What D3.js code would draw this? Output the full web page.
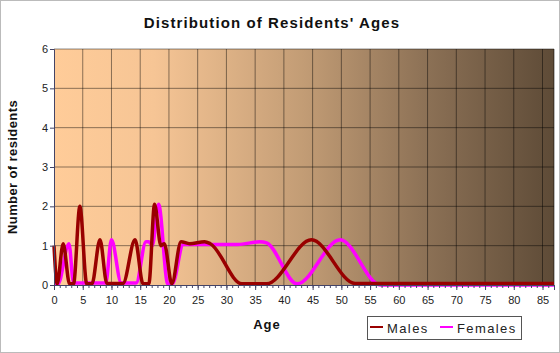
<!DOCTYPE html>
<html>
<head>
<meta charset="utf-8">
<script src="https://cdn.jsdelivr.net/npm/d3@7"></script>
<style>
  body { margin: 0; background: #fff; }
  svg { display: block; font-family: "Liberation Sans", Arial, sans-serif; }
</style>
</head>
<body>
<svg id="chart" width="560" height="353"></svg>
<script>
// ages, with the count at each of them
var maleAges   = [0, 0.55, 1.6, 2.7, 3.4, 4.5, 5.7, 6.6, 8.0, 9.2, 12, 14.1, 15.5, 16.5, 17.5, 18.6, 19.2, 20.5, 22.1, 23.6, 26.2, 27.2, 32.7, 37, 44.8, 52.4, 87];
var maleCounts = [1.0, 0.03, 1.05, 0.03, 0.03, 2.0, 0.03, 0.03, 1.15, 0.04, 0.04, 1.15, 0.03, 0.03, 2.05, 1.0, 1.05, 0.03, 1.1, 1.05, 1.1, 1.05, 0.03, 0.03, 1.15, 0.04, 0.04];
var femaleAges   = [0, 0.7, 2.6, 3.4, 9.0, 10, 11.7, 14.3, 16, 16.5, 17.1, 18.2, 19.8, 20.6, 22.5, 25, 32, 35.8, 37, 42.3, 49.8, 56.8, 87];
var femaleCounts = [0.03, 0.03, 1.05, 0.05, 0.05, 1.15, 0.05, 0.05, 1.1, 1.1, 1.0, 2.05, 0.03, 0.03, 1.03, 1.03, 1.03, 1.1, 1.07, 0.03, 1.15, 0.0, 0.0];
var xTicks = [0, 5, 10, 15, 20, 25, 30, 35, 40, 45, 50, 55, 60, 65, 70, 75, 80, 85];
var yTicks = [0, 1, 2, 3, 4, 5, 6];

var svg = d3.select("#chart");
var pLeft = 54, pRight = 554, pTop = 49, pBottom = 285;

var x = d3.scaleLinear().domain([0, 87]).range([pLeft, pRight]);
var y = d3.scaleLinear().domain([0, 6]).range([pBottom, pTop]);

// background gradient
var grad = svg.append("defs").append("linearGradient")
    .attr("id", "bg").attr("x1", "0").attr("x2", "1").attr("y1", "0").attr("y2", "0");
grad.append("stop").attr("offset", "0").attr("stop-color", "#ffcc99");
grad.append("stop").attr("offset", "0.2").attr("stop-color", "#f6c595");
grad.append("stop").attr("offset", "0.5").attr("stop-color", "#c29c75");
grad.append("stop").attr("offset", "0.75").attr("stop-color", "#8b7055");
grad.append("stop").attr("offset", "1").attr("stop-color", "#5e4b37");

svg.append("rect").attr("x", pLeft).attr("y", pTop)
    .attr("width", pRight - pLeft).attr("height", pBottom - pTop)
    .attr("fill", "url(#bg)");

// grid
svg.append("g").selectAll("line").data(xTicks.slice(1)).enter().append("line")
    .attr("x1", function(d) { return x(d); }).attr("x2", function(d) { return x(d); })
    .attr("y1", pTop).attr("y2", pBottom)
    .attr("stroke", "rgba(0,0,0,0.45)").attr("stroke-width", 1);
svg.append("g").selectAll("line").data(yTicks.slice(1)).enter().append("line")
    .attr("x1", pLeft).attr("x2", pRight)
    .attr("y1", function(d) { return y(d); }).attr("y2", function(d) { return y(d); })
    .attr("stroke", "rgba(0,0,0,0.45)").attr("stroke-width", 1);
svg.append("line").attr("x1", pRight).attr("x2", pRight).attr("y1", pTop).attr("y2", pBottom)
    .attr("stroke", "rgba(0,0,0,0.55)");

// lines
var line = d3.line().curve(d3.curveMonotoneX)
    .x(function(d) { return x(d[0]); })
    .y(function(d) { return y(d[1]); });

svg.append("path").datum(d3.zip(femaleAges, femaleCounts))
    .attr("d", line).attr("fill", "none")
    .attr("stroke", "#ff00ff").attr("stroke-width", 3.5);
svg.append("path").datum(d3.zip(maleAges, maleCounts))
    .attr("d", line).attr("fill", "none")
    .attr("stroke", "#990000").attr("stroke-width", 3.5);

// axes
var yAxis = svg.append("g").attr("transform", "translate(" + pLeft + ",0)")
    .call(d3.axisLeft(y).tickValues(yTicks).tickSize(4).tickPadding(2).tickFormat(d3.format("d")));
var xMinor = svg.append("g").attr("transform", "translate(0," + pBottom + ")")
    .call(d3.axisBottom(x).tickValues(d3.range(0, 88)).tickSize(3).tickFormat(""));
var xAxis = svg.append("g").attr("transform", "translate(0," + pBottom + ")")
    .call(d3.axisBottom(x).tickValues(xTicks).tickSize(5).tickPadding(6).tickFormat(d3.format("d")));

[yAxis, xAxis, xMinor].forEach(function(g) {
  g.select(".domain").attr("stroke", "#446").attr("stroke-width", 1);
  g.selectAll(".tick line").attr("stroke", "#446");
  g.selectAll("text").attr("font-size", 11).attr("fill", "#222")
    .attr("font-family", "Liberation Sans, Arial, sans-serif");
});
xMinor.select(".domain").remove();

// titles
svg.append("text").attr("x", 272).attr("y", 28).attr("text-anchor", "middle")
    .attr("font-size", 15).attr("font-weight", "bold").attr("letter-spacing", 1.1)
    .attr("fill", "#111").text("Distribution of Residents' Ages");

svg.append("text").attr("transform", "translate(17,167) rotate(-90)")
    .attr("text-anchor", "middle").attr("font-size", 13).attr("font-weight", "bold")
    .attr("letter-spacing", 0.4).attr("fill", "#111").text("Number of residents");

svg.append("text").attr("x", 267).attr("y", 329).attr("text-anchor", "middle")
    .attr("font-size", 13).attr("font-weight", "bold").attr("letter-spacing", 1)
    .attr("fill", "#111").text("Age");

// legend
var legend = svg.append("g");
legend.append("rect").attr("x", 367.5).attr("y", 316.5).attr("width", 154).attr("height", 23)
    .attr("fill", "none").attr("stroke", "#555");
var items = [["Males", "#990000", 370], ["Females", "#ff00ff", 440]];
items.forEach(function(it) {
  legend.append("line").attr("x1", it[2]).attr("x2", it[2] + 13)
      .attr("y1", 327).attr("y2", 327).attr("stroke", it[1]).attr("stroke-width", 2);
  legend.append("text").attr("x", it[2] + 17).attr("y", 332.5)
      .attr("font-size", 13).attr("letter-spacing", 1.4).attr("fill", "#222").text(it[0]);
});

// outer frame
svg.append("rect").attr("x", 0.5).attr("y", 0.5).attr("width", 559).attr("height", 352)
    .attr("fill", "none").attr("stroke", "#bbb");
</script>
</body>
</html>
